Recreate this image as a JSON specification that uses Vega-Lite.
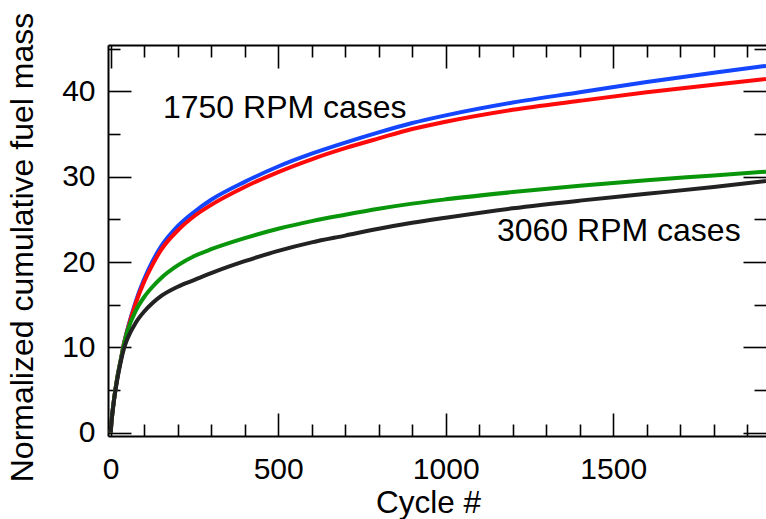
{
  "$schema": "https://vega.github.io/schema/vega-lite/v6.json",
  "width": 658,
  "height": 391,
  "autosize": {"type": "none"},
  "padding": {"left": 108, "top": 45, "right": 0, "bottom": 83},
  "background": "white",
  "config": {
    "font": "Liberation Sans",
    "view": {"stroke": null},
    "axis": {
      "grid": false,
      "labelFont": "Liberation Sans",
      "titleFont": "Liberation Sans",
      "labelColor": "black",
      "titleColor": "black",
      "domainColor": "black",
      "tickColor": "black",
      "titleFontWeight": "normal",
      "labelFlush": false,
      "labelOverlap": false,
      "domainWidth": 2,
      "tickWidth": 1.6
    }
  },
  "layer": [
    {
      "data": {"values": [
        {"series": "1750 A", "cycle": 0, "value": 0}, {"series": "1750 A", "cycle": 2, "value": 1.1}, {"series": "1750 A", "cycle": 5, "value": 2.3}, {"series": "1750 A", "cycle": 10, "value": 3.9}, {"series": "1750 A", "cycle": 20, "value": 6.5}, {"series": "1750 A", "cycle": 30, "value": 8.5}, {"series": "1750 A", "cycle": 40, "value": 10.5}, {"series": "1750 A", "cycle": 50, "value": 12.1}, {"series": "1750 A", "cycle": 75, "value": 15.4}, {"series": "1750 A", "cycle": 100, "value": 18.0}, {"series": "1750 A", "cycle": 125, "value": 20.1}, {"series": "1750 A", "cycle": 150, "value": 21.8}, {"series": "1750 A", "cycle": 200, "value": 24.2}, {"series": "1750 A", "cycle": 250, "value": 25.9}, {"series": "1750 A", "cycle": 300, "value": 27.3}, {"series": "1750 A", "cycle": 400, "value": 29.4}, {"series": "1750 A", "cycle": 500, "value": 31.2}, {"series": "1750 A", "cycle": 600, "value": 32.7}, {"series": "1750 A", "cycle": 700, "value": 34.0}, {"series": "1750 A", "cycle": 800, "value": 35.2}, {"series": "1750 A", "cycle": 900, "value": 36.3}, {"series": "1750 A", "cycle": 1000, "value": 37.2}, {"series": "1750 A", "cycle": 1200, "value": 38.7}, {"series": "1750 A", "cycle": 1400, "value": 39.9}, {"series": "1750 A", "cycle": 1600, "value": 41.1}, {"series": "1750 A", "cycle": 1800, "value": 42.2}, {"series": "1750 A", "cycle": 1956, "value": 43.0},
        {"series": "1750 B", "cycle": 0, "value": 0}, {"series": "1750 B", "cycle": 2, "value": 1.1}, {"series": "1750 B", "cycle": 5, "value": 2.3}, {"series": "1750 B", "cycle": 10, "value": 3.9}, {"series": "1750 B", "cycle": 20, "value": 6.5}, {"series": "1750 B", "cycle": 30, "value": 8.5}, {"series": "1750 B", "cycle": 40, "value": 10.5}, {"series": "1750 B", "cycle": 50, "value": 12.0}, {"series": "1750 B", "cycle": 75, "value": 15.2}, {"series": "1750 B", "cycle": 100, "value": 17.7}, {"series": "1750 B", "cycle": 125, "value": 19.7}, {"series": "1750 B", "cycle": 150, "value": 21.4}, {"series": "1750 B", "cycle": 200, "value": 23.7}, {"series": "1750 B", "cycle": 250, "value": 25.4}, {"series": "1750 B", "cycle": 300, "value": 26.7}, {"series": "1750 B", "cycle": 400, "value": 28.8}, {"series": "1750 B", "cycle": 500, "value": 30.55}, {"series": "1750 B", "cycle": 600, "value": 32.05}, {"series": "1750 B", "cycle": 700, "value": 33.35}, {"series": "1750 B", "cycle": 800, "value": 34.5}, {"series": "1750 B", "cycle": 900, "value": 35.6}, {"series": "1750 B", "cycle": 1000, "value": 36.45}, {"series": "1750 B", "cycle": 1200, "value": 37.85}, {"series": "1750 B", "cycle": 1400, "value": 38.9}, {"series": "1750 B", "cycle": 1600, "value": 39.9}, {"series": "1750 B", "cycle": 1800, "value": 40.8}, {"series": "1750 B", "cycle": 1956, "value": 41.45},
        {"series": "3060 A", "cycle": 0, "value": 0}, {"series": "3060 A", "cycle": 2, "value": 1.1}, {"series": "3060 A", "cycle": 5, "value": 2.3}, {"series": "3060 A", "cycle": 10, "value": 3.9}, {"series": "3060 A", "cycle": 20, "value": 6.5}, {"series": "3060 A", "cycle": 30, "value": 8.5}, {"series": "3060 A", "cycle": 40, "value": 10.4}, {"series": "3060 A", "cycle": 50, "value": 11.9}, {"series": "3060 A", "cycle": 75, "value": 14.3}, {"series": "3060 A", "cycle": 100, "value": 15.9}, {"series": "3060 A", "cycle": 125, "value": 17.1}, {"series": "3060 A", "cycle": 150, "value": 18.1}, {"series": "3060 A", "cycle": 200, "value": 19.6}, {"series": "3060 A", "cycle": 250, "value": 20.7}, {"series": "3060 A", "cycle": 300, "value": 21.5}, {"series": "3060 A", "cycle": 400, "value": 22.8}, {"series": "3060 A", "cycle": 500, "value": 23.9}, {"series": "3060 A", "cycle": 600, "value": 24.8}, {"series": "3060 A", "cycle": 700, "value": 25.55}, {"series": "3060 A", "cycle": 800, "value": 26.25}, {"series": "3060 A", "cycle": 900, "value": 26.85}, {"series": "3060 A", "cycle": 1000, "value": 27.35}, {"series": "3060 A", "cycle": 1200, "value": 28.2}, {"series": "3060 A", "cycle": 1400, "value": 28.95}, {"series": "3060 A", "cycle": 1600, "value": 29.6}, {"series": "3060 A", "cycle": 1800, "value": 30.15}, {"series": "3060 A", "cycle": 1956, "value": 30.6},
        {"series": "3060 B", "cycle": 0, "value": 0}, {"series": "3060 B", "cycle": 2, "value": 1.1}, {"series": "3060 B", "cycle": 5, "value": 2.2}, {"series": "3060 B", "cycle": 10, "value": 3.8}, {"series": "3060 B", "cycle": 20, "value": 6.3}, {"series": "3060 B", "cycle": 30, "value": 8.3}, {"series": "3060 B", "cycle": 40, "value": 9.9}, {"series": "3060 B", "cycle": 50, "value": 11.0}, {"series": "3060 B", "cycle": 75, "value": 12.9}, {"series": "3060 B", "cycle": 100, "value": 14.2}, {"series": "3060 B", "cycle": 125, "value": 15.2}, {"series": "3060 B", "cycle": 150, "value": 16.0}, {"series": "3060 B", "cycle": 200, "value": 17.1}, {"series": "3060 B", "cycle": 250, "value": 17.9}, {"series": "3060 B", "cycle": 300, "value": 18.7}, {"series": "3060 B", "cycle": 400, "value": 20.1}, {"series": "3060 B", "cycle": 500, "value": 21.3}, {"series": "3060 B", "cycle": 600, "value": 22.3}, {"series": "3060 B", "cycle": 700, "value": 23.1}, {"series": "3060 B", "cycle": 800, "value": 23.9}, {"series": "3060 B", "cycle": 900, "value": 24.6}, {"series": "3060 B", "cycle": 1000, "value": 25.2}, {"series": "3060 B", "cycle": 1200, "value": 26.3}, {"series": "3060 B", "cycle": 1400, "value": 27.2}, {"series": "3060 B", "cycle": 1600, "value": 28.0}, {"series": "3060 B", "cycle": 1800, "value": 28.8}, {"series": "3060 B", "cycle": 1956, "value": 29.5}
      ]},
      "mark": {"type": "line", "strokeWidth": 4, "clip": true, "interpolate": "monotone"},
      "encoding": {
        "x": {
          "field": "cycle", "type": "quantitative",
          "scale": {"domain": [-8, 1956], "nice": false, "zero": false},
          "axis": {
            "orient": "bottom",
            "values": [0, 100, 200, 300, 400, 500, 600, 700, 800, 900, 1000, 1100, 1200, 1300, 1400, 1500, 1600, 1700, 1800, 1900],
            "format": "d",
            "labelExpr": "datum.value % 500 === 0 ? datum.label : ''",
            "tickSize": {"condition": {"test": "datum.value % 500 === 0", "value": -23}, "value": -12},
            "labelFontSize": 30,
            "labelPadding": 41,
            "title": "Cycle #",
            "titleFontSize": 31.5,
            "titlePadding": -8,
            "titleX": 320
          }
        },
        "y": {
          "field": "value", "type": "quantitative",
          "scale": {"domain": [-0.4, 45.45], "nice": false, "zero": false},
          "axis": {
            "orient": "left",
            "values": [0, 5, 10, 15, 20, 25, 30, 35, 40, 45],
            "format": "d",
            "labelExpr": "datum.value % 10 === 0 ? datum.label : ''",
            "tickSize": {"condition": {"test": "datum.value % 10 === 0", "value": -23}, "value": -12},
            "labelFontSize": 30,
            "labelPadding": 36,
            "title": "Normalized cumulative fuel mass",
            "titleFontSize": 32,
            "titlePadding": 22,
            "titleY": 202
          }
        },
        "color": {
          "field": "series", "type": "nominal",
          "scale": {"domain": ["1750 A", "1750 B", "3060 A", "3060 B"], "range": ["#1446ff", "#ff0a0a", "#0a960a", "#222222"]},
          "legend": null
        }
      }
    },
    {
      "data": {"values": [
        {"cycle": 156, "value": 36.9, "label": "1750 RPM cases"},
        {"cycle": 1153, "value": 22.5, "label": "3060 RPM cases"}
      ]},
      "mark": {"type": "text", "align": "left", "baseline": "alphabetic", "fontSize": 32, "font": "Liberation Sans", "color": "black"},
      "encoding": {
        "x": {
          "field": "cycle", "type": "quantitative",
          "axis": {
            "orient": "top",
            "values": [0, 100, 200, 300, 400, 500, 600, 700, 800, 900, 1000, 1100, 1200, 1300, 1400, 1500, 1600, 1700, 1800, 1900],
            "labels": false,
            "title": null,
            "tickSize": {"condition": {"test": "datum.value % 500 === 0", "value": -23}, "value": -12}
          }
        },
        "y": {
          "field": "value", "type": "quantitative",
          "axis": {
            "orient": "right",
            "values": [0, 5, 10, 15, 20, 25, 30, 35, 40, 45],
            "labels": false,
            "title": null,
            "domain": false,
            "tickSize": {"condition": {"test": "datum.value % 10 === 0", "value": -23}, "value": -12}
          }
        },
        "text": {"field": "label", "type": "nominal"}
      }
    }
  ],
  "resolve": {"axis": {"x": "independent", "y": "independent"}}
}
